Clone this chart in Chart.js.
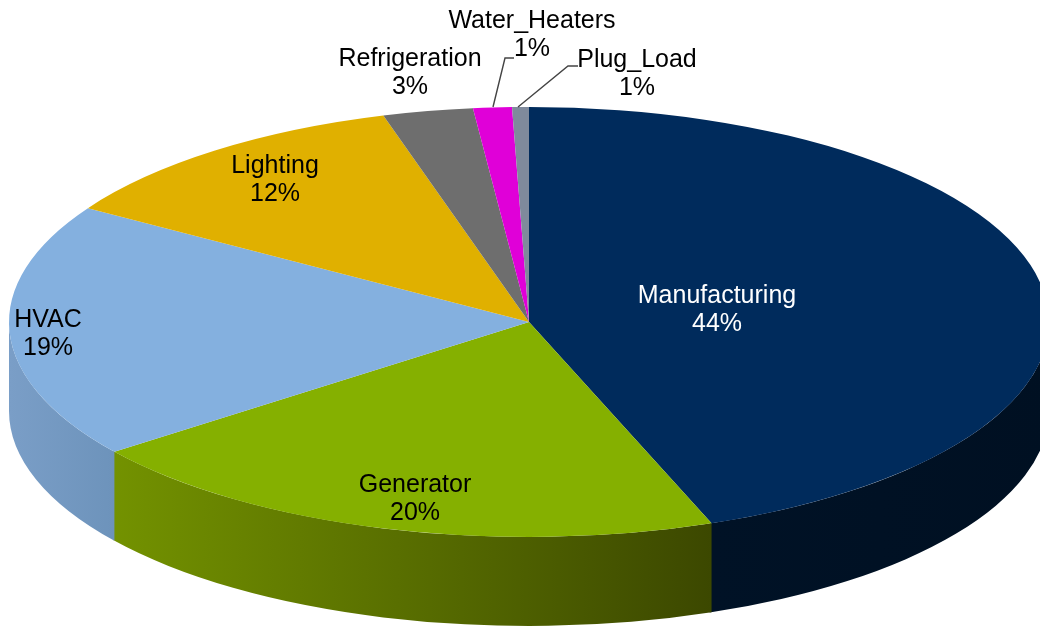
<!DOCTYPE html>
<html lang="en">
<head>
    <meta charset="UTF-8">
    <title>Energy use by end use</title>
    <script src="https://cdn.jsdelivr.net/npm/chart.js@4"></script>
    <style>
        html, body { margin: 0; padding: 0; background: #fff; overflow: hidden; }
        canvas { display: block; }
    </style>
</head>
<body>
<canvas id="myChart" width="1040" height="627"></canvas>

<script>
    const categories = ["Manufacturing", "Generator", "HVAC", "Lighting", "Refrigeration", "Water_Heaters", "Plug_Load"];
    const shareValues = [44.3, 20.4, 19.2, 11.6, 2.8, 1.2, 0.52];
    const sliceColors = ["#002b5c", "#85b000", "#84b0df", "#e0b000", "#6e6e6e", "#e000d8", "#7f8a9c"];
    const wallStart = ["#001226", "#739200", "#7a9ec7", "#b08a00", "#555555", "#b000a8", "#646c7a"];
    const wallEnd = ["#001022", "#3c4800", "#6d93bb", "#b08a00", "#555555", "#b000a8", "#646c7a"];
    const labelColors = ["#ffffff", "#000000", "#000000", "#000000", "#000000", "#000000", "#000000"];

    // squashed pie: where the flat circle ends up on the page
    const pieX = 529, pieY = 322, pieRx = 520, pieRy = 215, pieDepth = 89;

    // centre of each two line label, x / y of first line
    const labelX = [717, 415, 48, 275, 410, 532, 637];
    const labelY = [296, 485, 320, 166, 59, 21, 60];
    const lineGap = 28;

    const leaders = {
        5: [[493, 107], [505, 58], [514, 58]],
        6: [[518, 107], [568, 66], [578, 66]]
    };

    const pie3d = {
        id: "pie3d",
        beforeDatasetsDraw(chart) {
            const ctx = chart.ctx;
            const arcs = chart.getDatasetMeta(0).data;

            // side wall, only the front half can be seen
            arcs.forEach(function (arc, i) {
                const a0 = Math.max(arc.startAngle, 0);
                const a1 = Math.min(arc.endAngle, Math.PI);
                if (a1 <= a0) return;

                const x0 = pieX + pieRx * Math.cos(a0);
                const x1 = pieX + pieRx * Math.cos(a1);
                const grad = ctx.createLinearGradient(x0, 0, x1, 0);
                grad.addColorStop(0, wallEnd[i]);
                grad.addColorStop(1, wallStart[i]);

                // run a bit under the next wall, otherwise a light seam shows
                const a1Over = Math.min(a1 + 0.004, Math.PI);

                ctx.save();
                ctx.fillStyle = grad;
                ctx.beginPath();
                ctx.ellipse(pieX, pieY, pieRx, pieRy, 0, a0, a1Over);
                ctx.ellipse(pieX, pieY + pieDepth, pieRx, pieRy, 0, a1Over, a0, true);
                ctx.closePath();
                ctx.fill();
                ctx.restore();
            });

            // top face, the library draws it, we only squash the canvas
            const first = arcs[0];
            ctx.save();
            ctx.translate(pieX, pieY);
            ctx.scale(pieRx / first.outerRadius, pieRy / first.outerRadius);
            ctx.translate(-first.x, -first.y);
        },
        afterDatasetsDraw(chart) {
            chart.ctx.restore();
        },
        afterDraw(chart) {
            const ctx = chart.ctx;
            const total = shareValues.reduce(function (a, b) { return a + b; }, 0);

            ctx.save();
            ctx.strokeStyle = "#444444";
            ctx.lineWidth = 1.4;
            Object.keys(leaders).forEach(function (k) {
                ctx.beginPath();
                leaders[k].forEach(function (p, n) {
                    if (n === 0) ctx.moveTo(p[0], p[1]);
                    else ctx.lineTo(p[0], p[1]);
                });
                ctx.stroke();
            });

            ctx.font = "25px 'Liberation Sans', Arial, sans-serif";
            ctx.textAlign = "center";
            ctx.textBaseline = "middle";
            categories.forEach(function (name, i) {
                ctx.fillStyle = labelColors[i];
                ctx.fillText(name, labelX[i], labelY[i]);
                ctx.fillText(Math.round(shareValues[i] / total * 100) + "%", labelX[i], labelY[i] + lineGap);
            });
            ctx.restore();
        }
    };

    const myChart = new Chart(document.getElementById("myChart"), {
        type: "pie",
        data: {
            labels: categories,
            datasets: [{
                data: shareValues,
                backgroundColor: sliceColors,
                borderWidth: 0,
                clip: false
            }]
        },
        options: {
            responsive: false,
            animation: false,
            plugins: {
                legend: { display: false },
                title: { display: false },
                tooltip: { enabled: false }
            }
        },
        plugins: [pie3d]
    });
</script>
</body>
</html>
